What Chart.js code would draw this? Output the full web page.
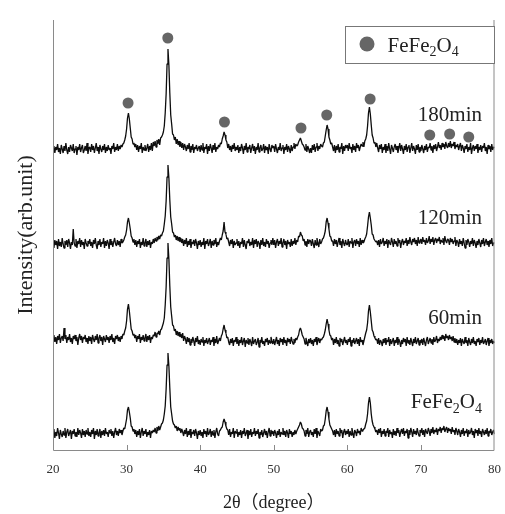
<!DOCTYPE html>
<html>
<head>
<meta charset="utf-8">
<script src="https://cdn.jsdelivr.net/npm/chart.js@4/dist/chart.umd.min.js"></script>
<style>
  html, body { margin: 0; padding: 0; background: #fff; }
  #xrd { display: block; }
</style>
</head>
<body>
<canvas id="xrd" width="505" height="514"></canvas>
<script>
// 2θ sampling grid: 20° .. 80° in 0.125° steps (481 points per pattern)
const ANGLE_START = 20;
const ANGLE_STEP = 0.125;
const X_TICKS = [20, 30, 40, 50, 60, 70, 80];

// Intensities above each pattern's own floor (arb. unit), two lines = 5°
const PATTERN_180 = [
  5, 10, 3, 9, 6, 12, 4, 8, 2, 11, 7, 3, 10, 5, 13, 6, 2, 9, 4, 11,
  8, 5, 12, 3, 7, 10, 1, 9, 6, 12, 4, 8, 11, 3, 6, 10, 5, 13, 2, 8,
  9, 4, 12, 6, 10, 3, 8, 13, 5, 9, 2, 11, 7, 4, 10, 6, 12, 3, 9, 5,
  11, 6, 8, 2, 10, 7, 13, 4, 9, 6, 12, 5, 10, 7, 11, 9, 12, 13, 16, 20,
  27, 38, 43, 37, 28, 19, 17, 12, 13, 9, 12, 6, 11, 4, 10, 7, 13, 3, 9, 6,
  11, 5, 8, 12, 4, 10, 6, 13, 5, 14, 10, 15, 9, 16, 12, 17, 11, 18, 19, 21,
  24, 30, 43, 62, 92, 107, 91, 63, 41, 32, 22, 21, 16, 19, 12, 17, 11, 15, 9, 14,
  8, 13, 6, 12, 9, 5, 11, 7, 13, 4, 10, 6, 12, 3, 9, 7, 11, 5, 8, 10,
  4, 11, 6, 13, 3, 9, 7, 12, 2, 10, 5, 12, 8, 3, 11, 6, 13, 4, 9, 7,
  11, 9, 13, 12, 17, 20, 24, 21, 16, 14, 8, 12, 6, 10, 4, 11, 7, 13, 5, 9,
  6, 11, 3, 9, 5, 12, 8, 2, 10, 6, 13, 4, 9, 7, 11, 3, 8, 12, 5, 10,
  2, 9, 6, 13, 4, 8, 11, 5, 7, 12, 3, 10, 6, 9, 2, 12, 7, 4, 11, 8,
  10, 4, 12, 7, 3, 9, 6, 13, 5, 8, 11, 2, 9, 6, 12, 4, 10, 7, 3, 11,
  5, 9, 13, 7, 12, 10, 11, 14, 16, 18, 15, 12, 11, 9, 6, 12, 4, 10, 7, 3,
  8, 3, 11, 6, 12, 4, 9, 13, 5, 10, 7, 12, 10, 9, 13, 14, 20, 26, 31, 27,
  19, 16, 12, 13, 9, 5, 11, 3, 10, 6, 12, 4, 9, 7, 13, 2, 10, 5, 11, 8,
  11, 5, 13, 7, 9, 3, 12, 6, 10, 4, 13, 8, 11, 5, 9, 12, 10, 14, 9, 15,
  17, 21, 30, 43, 49, 42, 31, 21, 18, 13, 14, 9, 13, 8, 4, 11, 7, 12, 3, 9,
  6, 12, 3, 10, 5, 13, 7, 2, 11, 8, 4, 9, 12, 6, 10, 3, 8, 13, 5, 11,
  7, 2, 10, 6, 12, 4, 9, 11, 3, 8, 13, 5, 10, 7, 2, 11, 6, 12, 4, 9,
  5, 11, 7, 3, 10, 6, 12, 4, 9, 8, 13, 6, 10, 3, 11, 7, 12, 5, 9, 14,
  8, 11, 6, 13, 9, 12, 7, 14, 10, 8, 13, 9, 15, 8, 12, 10, 14, 7, 11, 9,
  12, 6, 10, 13, 5, 11, 8, 3, 10, 7, 12, 4, 9, 6, 13, 2, 8, 11, 5, 10,
  7, 12, 3, 9, 6, 11, 4, 10, 8, 13, 5, 9, 2, 11, 7, 10, 4, 12, 6, 9,
  8,
];

const PATTERN_120 = [
  8, 3, 11, 6, 10, 2, 12, 5, 9, 4, 13, 7, 3, 10, 6, 11, 4, 12, 8, 2,
  9, 6, 22, 8, 5, 12, 3, 10, 7, 13, 4, 11, 6, 9, 2, 12, 8, 5, 10, 7,
  12, 5, 9, 3, 11, 7, 13, 6, 2, 10, 6, 12, 4, 9, 7, 13, 3, 10, 5, 11,
  8, 2, 12, 6, 10, 4, 9, 13, 7, 5, 11, 6, 10, 4, 12, 8, 9, 11, 14, 16,
  21, 29, 33, 28, 22, 15, 13, 9, 12, 6, 11, 4, 10, 7, 12, 3, 9, 6, 13, 5,
  8, 12, 4, 10, 6, 11, 3, 9, 7, 12, 8, 13, 10, 14, 11, 15, 12, 16, 15, 18,
  20, 27, 35, 50, 74, 86, 73, 51, 34, 27, 19, 18, 14, 16, 11, 15, 10, 14, 9, 13,
  8, 12, 5, 11, 7, 13, 4, 10, 6, 12, 3, 9, 7, 11, 5, 12, 8, 2, 10, 6,
  11, 4, 9, 6, 13, 2, 10, 7, 12, 5, 8, 12, 3, 10, 6, 11, 7, 13, 4, 9,
  6, 10, 13, 11, 16, 20, 29, 19, 17, 12, 13, 9, 5, 11, 7, 12, 3, 10, 6, 8,
  12, 5, 10, 3, 9, 7, 13, 4, 11, 6, 2, 10, 8, 12, 5, 9, 6, 13, 3, 11,
  7, 12, 4, 10, 8, 2, 11, 6, 13, 5, 9, 4, 12, 7, 10, 3, 8, 11, 6, 13,
  6, 11, 3, 9, 12, 5, 10, 7, 13, 4, 8, 12, 6, 10, 2, 11, 7, 9, 4, 12,
  5, 10, 7, 13, 6, 11, 9, 15, 14, 19, 16, 15, 10, 12, 6, 10, 4, 12, 7, 11,
  10, 5, 12, 7, 3, 11, 6, 13, 8, 4, 12, 7, 9, 12, 13, 16, 20, 29, 33, 28,
  22, 15, 14, 10, 10, 5, 12, 7, 11, 4, 9, 13, 6, 10, 3, 12, 8, 5, 11, 7,
  6, 12, 4, 10, 8, 13, 3, 9, 11, 5, 12, 7, 10, 4, 13, 6, 11, 8, 9, 12,
  14, 17, 25, 34, 39, 33, 26, 17, 16, 12, 12, 9, 10, 6, 11, 4, 12, 7, 9, 13,
  5, 10, 7, 12, 3, 11, 8, 6, 13, 9, 4, 12, 7, 10, 5, 13, 8, 11, 3, 9,
  12, 6, 10, 8, 13, 5, 11, 7, 14, 9, 6, 12, 9, 13, 7, 11, 5, 14, 8, 10,
  12, 7, 14, 9, 11, 6, 13, 8, 10, 15, 7, 12, 9, 14, 6, 11, 13, 8, 12, 10,
  14, 7, 11, 9, 13, 6, 15, 10, 8, 12, 11, 6, 13, 9, 12, 7, 10, 14, 5, 11,
  9, 4, 12, 7, 10, 5, 13, 8, 3, 11, 6, 12, 9, 4, 10, 7, 13, 5, 11, 8,
  3, 10, 6, 12, 8, 4, 11, 7, 13, 5, 9, 12, 6, 10, 4, 11, 7, 13, 5, 8,
  8,
];

const PATTERN_60 = [
  9, 13, 6, 11, 4, 12, 8, 14, 5, 10, 12, 7, 20, 9, 13, 5, 11, 8, 14, 6,
  10, 4, 12, 9, 13, 7, 11, 3, 10, 14, 8, 12, 5, 11, 9, 13, 6, 10, 4, 12,
  7, 11, 4, 13, 9, 6, 12, 8, 14, 5, 10, 13, 7, 11, 3, 12, 9, 6, 13, 8,
  11, 5, 12, 8, 14, 6, 10, 4, 12, 9, 13, 7, 11, 6, 12, 9, 14, 13, 17, 20,
  27, 39, 44, 37, 28, 19, 17, 13, 14, 10, 13, 6, 12, 9, 14, 5, 11, 8, 13, 7,
  10, 14, 6, 12, 8, 13, 5, 11, 9, 13, 12, 16, 11, 15, 14, 17, 13, 18, 19, 22,
  25, 30, 43, 61, 90, 105, 89, 62, 41, 32, 23, 22, 17, 19, 13, 17, 12, 16, 11, 14,
  10, 15, 7, 12, 9, 4, 11, 6, 10, 3, 9, 5, 11, 7, 2, 10, 6, 12, 4, 8,
  3, 9, 6, 11, 2, 8, 5, 10, 4, 7, 10, 3, 8, 6, 11, 2, 9, 5, 12, 4,
  7, 10, 7, 12, 14, 19, 23, 18, 15, 10, 11, 6, 3, 9, 5, 10, 2, 8, 6, 11,
  4, 9, 2, 8, 5, 11, 3, 7, 10, 1, 8, 5, 10, 3, 9, 6, 2, 11, 4, 7,
  9, 3, 6, 10, 1, 8, 5, 11, 4, 7, 2, 9, 6, 10, 3, 8, 5, 11, 7, 4,
  9, 3, 7, 11, 4, 8, 2, 10, 6, 9, 3, 11, 5, 8, 2, 10, 6, 9, 4, 11,
  7, 4, 9, 5, 10, 8, 11, 13, 18, 20, 17, 13, 11, 9, 4, 10, 6, 2, 9, 5,
  10, 4, 8, 2, 9, 6, 11, 3, 7, 10, 5, 9, 8, 10, 11, 14, 18, 24, 29, 24,
  18, 13, 12, 8, 10, 3, 9, 5, 11, 4, 8, 2, 10, 6, 9, 3, 7, 11, 5, 8,
  3, 9, 6, 11, 2, 8, 5, 10, 4, 7, 10, 4, 9, 2, 11, 6, 8, 3, 7, 11,
  15, 18, 25, 37, 43, 36, 27, 18, 16, 12, 10, 8, 9, 4, 10, 3, 8, 6, 2, 9,
  5, 10, 3, 8, 6, 11, 2, 9, 4, 7, 10, 2, 8, 5, 11, 3, 9, 6, 1, 8,
  4, 10, 6, 9, 2, 11, 5, 8, 3, 10, 6, 2, 9, 5, 11, 4, 7, 10, 3, 8,
  5, 9, 3, 10, 6, 2, 8, 11, 4, 7, 10, 5, 9, 3, 11, 6, 8, 12, 5, 9,
  7, 11, 8, 13, 9, 12, 7, 14, 10, 12, 8, 13, 9, 11, 7, 12, 6, 10, 5, 9,
  3, 8, 5, 10, 2, 9, 6, 4, 11, 5, 8, 2, 10, 6, 3, 9, 5, 11, 4, 7,
  2, 9, 6, 10, 3, 8, 5, 11, 4, 6, 9, 3, 7, 10, 2, 8, 5, 9, 4, 7,
  5,
];

const PATTERN_REF = [
  6, 12, 3, 9, 5, 13, 8, 2, 11, 7, 4, 10, 6, 13, 3, 9, 12, 5, 8, 11,
  2, 10, 7, 12, 5, 9, 4, 13, 6, 11, 8, 3, 12, 6, 10, 4, 11, 7, 13, 5,
  9, 4, 11, 7, 13, 2, 10, 6, 12, 5, 8, 12, 3, 10, 6, 11, 5, 13, 7, 9,
  4, 11, 8, 12, 5, 10, 3, 9, 13, 6, 10, 5, 12, 8, 11, 6, 10, 13, 12, 17,
  22, 31, 34, 29, 23, 15, 14, 10, 12, 7, 11, 4, 10, 6, 12, 3, 9, 13, 5, 10,
  7, 12, 4, 9, 6, 11, 3, 10, 8, 11, 9, 13, 8, 14, 10, 15, 11, 14, 17, 18,
  21, 27, 35, 52, 76, 88, 75, 53, 34, 27, 20, 17, 16, 13, 15, 10, 14, 11, 13, 8,
  12, 9, 5, 11, 7, 13, 4, 10, 6, 12, 3, 9, 7, 11, 5, 12, 8, 2, 10, 6,
  11, 5, 9, 3, 12, 7, 10, 4, 13, 6, 8, 12, 4, 10, 6, 11, 3, 9, 13, 7,
  5, 10, 11, 13, 14, 19, 22, 19, 15, 12, 11, 6, 12, 4, 9, 7, 13, 3, 10, 8,
  12, 4, 9, 6, 11, 3, 10, 7, 13, 5, 8, 11, 2, 10, 6, 12, 4, 9, 7, 13,
  5, 10, 7, 12, 3, 9, 6, 11, 4, 8, 12, 6, 10, 3, 9, 13, 5, 11, 7, 10,
  5, 11, 8, 3, 10, 6, 12, 4, 9, 7, 13, 6, 10, 4, 11, 8, 3, 12, 7, 10,
  4, 9, 6, 11, 7, 10, 12, 14, 16, 19, 17, 13, 12, 10, 5, 11, 7, 13, 4, 9,
  11, 6, 9, 4, 12, 7, 13, 3, 10, 8, 5, 12, 10, 11, 15, 16, 22, 30, 34, 29,
  22, 16, 14, 12, 10, 6, 11, 4, 12, 7, 10, 5, 13, 8, 11, 3, 9, 12, 6, 10,
  7, 12, 4, 10, 6, 13, 8, 3, 11, 9, 5, 12, 8, 10, 6, 13, 10, 11, 12, 13,
  17, 20, 27, 38, 44, 38, 27, 20, 16, 14, 12, 9, 11, 6, 12, 8, 13, 4, 10, 7,
  12, 5, 10, 8, 13, 4, 11, 7, 9, 3, 12, 6, 10, 5, 13, 8, 11, 4, 9, 12,
  7, 13, 5, 10, 8, 12, 3, 11, 6, 13, 9, 4, 12, 7, 10, 6, 13, 8, 5, 11,
  8, 13, 6, 11, 4, 12, 9, 7, 13, 10, 5, 12, 8, 14, 7, 11, 9, 13, 6, 12,
  10, 14, 8, 13, 11, 15, 9, 12, 14, 8, 13, 10, 12, 7, 14, 9, 11, 6, 13, 10,
  6, 12, 9, 4, 11, 7, 13, 5, 10, 8, 12, 4, 11, 7, 9, 13, 6, 10, 3, 12,
  8, 11, 5, 13, 7, 10, 4, 12, 9, 6, 11, 7, 13, 5, 10, 8, 12, 6, 9, 11,
  7,
];

// FeFe2O4 reflections marked above the 180 min pattern
const MARK_ANGLES = [30.2, 35.6, 43.3, 53.7, 57.2, 63.1, 71.2, 73.9, 76.5];
const MARK_LEVELS = [347, 412, 328, 322, 335, 351, 315, 316, 313];

// vertical stacking of the patterns and their names
const SERIES = [
  { name: "180min", values: PATTERN_180, offset: 294, labelAt: 335 },
  { name: "120min", values: PATTERN_120, offset: 199, labelAt: 232 },
  { name: "60min", values: PATTERN_60, offset: 102, labelAt: 132 },
  { name: "FeFe2O4", values: PATTERN_REF, offset: 9, labelAt: 49 },
];

const SERIF = "'Liberation Serif', 'Times New Roman', serif";
const AXIS_COLOR = "#8a8a8a";
const MARK_COLOR = "#666666";

function toPoints(values, offset) {
  return values.map((v, i) => ({ x: ANGLE_START + i * ANGLE_STEP, y: offset + v }));
}

// text with chemical subscripts, e.g. "FeFe2O4"
function drawFormula(ctx, text, x, y, size, align) {
  const parts = text.match(/[A-Za-z]+|\d+/g);
  const subSize = Math.round(size * 0.66);
  let width = 0;
  parts.forEach((p) => {
    ctx.font = `${/\d/.test(p) ? subSize : size}px ${SERIF}`;
    width += ctx.measureText(p).width;
  });
  let cx = align === "right" ? x - width : x;
  ctx.textAlign = "left";
  ctx.textBaseline = "alphabetic";
  parts.forEach((p) => {
    const isSub = /^\d+$/.test(p);
    ctx.font = `${isSub ? subSize : size}px ${SERIF}`;
    ctx.fillText(p, cx, isSub ? y + size * 0.22 : y);
    cx += ctx.measureText(p).width;
  });
}

const decorations = {
  id: "decorations",
  afterDraw(chart) {
    const { ctx, chartArea: a, scales } = chart;
    ctx.save();

    // frame: left, bottom, right
    ctx.strokeStyle = AXIS_COLOR;
    ctx.lineWidth = 1;
    ctx.beginPath();
    ctx.moveTo(a.left + 0.5, a.top);
    ctx.lineTo(a.left + 0.5, a.bottom + 0.5);
    ctx.lineTo(a.right - 0.5, a.bottom + 0.5);
    ctx.lineTo(a.right - 0.5, a.top);
    ctx.stroke();

    // inward ticks
    ctx.beginPath();
    X_TICKS.slice(1, -1).forEach((t) => {
      const px = Math.round(scales.x.getPixelForValue(t)) + 0.5;
      ctx.moveTo(px, a.bottom);
      ctx.lineTo(px, a.bottom - 5);
    });
    ctx.stroke();

    // pattern names at the right
    ctx.fillStyle = "#222";
    const labelX = scales.x.getPixelForValue(78.3);
    SERIES.forEach((s) => {
      const py = scales.y.getPixelForValue(s.labelAt);
      if (/\d$/.test(s.name) && /[A-Z]/.test(s.name)) {
        drawFormula(ctx, s.name, labelX, py + 7, 21, "right");
      } else {
        ctx.font = `21px ${SERIF}`;
        ctx.textAlign = "right";
        ctx.textBaseline = "middle";
        ctx.fillText(s.name, labelX, py);
      }
    });

    // legend box
    const bx = 345.5, by = 26.5, bw = 149, bh = 37;
    ctx.fillStyle = "#fff";
    ctx.fillRect(bx, by, bw, bh);
    ctx.strokeStyle = "#777";
    ctx.strokeRect(bx, by, bw, bh);
    ctx.fillStyle = MARK_COLOR;
    ctx.beginPath();
    ctx.arc(bx + 21.5, by + 17.5, 7.5, 0, Math.PI * 2);
    ctx.fill();
    ctx.fillStyle = "#222";
    drawFormula(ctx, "FeFe2O4", bx + 42, by + 25, 21, "left");

    ctx.restore();
  },
};

const datasets = SERIES.map((s) => ({
  label: s.name,
  data: toPoints(s.values, s.offset),
  borderColor: "#0d0d0d",
  borderWidth: 1.3,
  borderJoinStyle: "bevel",
  pointRadius: 0,
  tension: 0,
}));

datasets.push({
  label: "FeFe2O4",
  data: MARK_ANGLES.map((x, i) => ({ x, y: MARK_LEVELS[i] })),
  showLine: false,
  pointRadius: 5.5,
  pointBackgroundColor: MARK_COLOR,
  pointBorderWidth: 0,
});

new Chart(document.getElementById("xrd"), {
  type: "line",
  data: { datasets },
  options: {
    responsive: false,
    animation: false,
    events: [],
    layout: { padding: { top: 20, right: 2, left: 0, bottom: 0 } },
    plugins: {
      legend: { display: false },
      tooltip: { enabled: false },
    },
    scales: {
      x: {
        type: "linear",
        min: 20,
        max: 80,
        afterFit: (scale) => { scale.height = 64; },
        afterBuildTicks: (scale) => { scale.ticks = X_TICKS.map((value) => ({ value })); },
        grid: { display: false },
        border: { display: false },
        ticks: {
          padding: 4,
          color: "#333",
          font: { family: SERIF, size: 13 },
          maxRotation: 0,
        },
        title: {
          display: true,
          text: "2θ（degree）",
          color: "#222",
          font: { family: "'Liberation Serif', 'Noto Sans CJK JP', serif", size: 18 },
          padding: { top: 0, bottom: 0 },
        },
      },
      y: {
        min: 0,
        max: 430,
        afterFit: (scale) => { scale.width = 53; },
        grid: { display: false },
        border: { display: false },
        ticks: { display: false },
        title: {
          display: true,
          text: "Intensity(arb.unit)",
          color: "#222",
          font: { family: SERIF, size: 22 },
          padding: 13,
        },
      },
    },
  },
  plugins: [decorations],
});
</script>
</body>
</html>
